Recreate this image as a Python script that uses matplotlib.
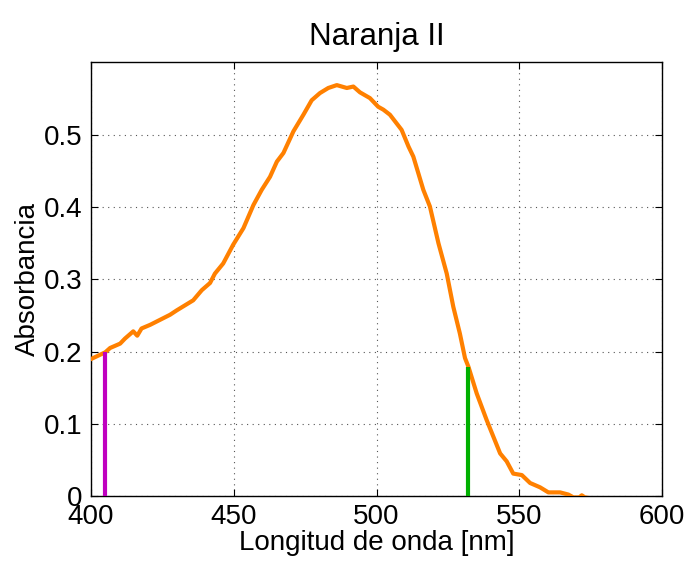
import matplotlib
matplotlib.use("Agg")
import matplotlib.pyplot as plt

plt.rcParams['font.family'] = ['Liberation Sans', 'DejaVu Sans']

# Absorption spectrum of Naranja II
wavelength = [400.2, 405.0, 406.7, 410.2, 411.9, 414.8, 416.2, 417.7, 420.7, 424.2,
              427.7, 430.0, 435.8, 438.8, 441.7, 443.4, 446.3, 449.8, 453.4, 456.9,
              459.8, 462.7, 465.1, 467.4, 470.9, 474.4, 477.3, 480.2, 483.1, 486.1,
              489.6, 491.9, 494.2, 497.7, 500.6, 502.4, 504.7, 508.8, 511.2, 512.9,
              516.4, 518.7, 521.7, 524.6, 526.9, 529.2, 531.0, 532.2, 535.1, 538.6,
              543.3, 545.6, 547.9, 550.9, 553.8, 557.3, 560.2, 564.3, 567.2, 569.0,
              571.0, 571.9, 573.0, 580.0, 590.0, 600.0]
absorbance = [0.190, 0.199, 0.205, 0.211, 0.218, 0.228, 0.222, 0.232, 0.237, 0.244,
              0.251, 0.257, 0.271, 0.285, 0.295, 0.308, 0.322, 0.348, 0.371, 0.403,
              0.424, 0.442, 0.463, 0.475, 0.505, 0.528, 0.548, 0.558, 0.565, 0.569,
              0.565, 0.567, 0.559, 0.551, 0.539, 0.535, 0.528, 0.507, 0.484, 0.470,
              0.424, 0.401, 0.350, 0.308, 0.262, 0.225, 0.191, 0.179, 0.142, 0.105,
              0.059, 0.048, 0.031, 0.029, 0.018, 0.012, 0.005, 0.005, 0.002, -0.002,
              -0.002, 0.001, -0.002, -0.006, -0.008, -0.010]

# Laser lines marked on the spectrum
laser_nm = [405, 532]
laser_abs = [0.199, 0.179]
laser_colors = ['#bf00bf', '#00b000']

fig = plt.figure(figsize=(6.88, 5.61), dpi=100)
ax = fig.add_axes([91/688, 1 - 496/561, (662 - 91)/688, (496 - 62)/561])

ax.plot(wavelength, absorbance, color='#ff8000', linewidth=3.0, zorder=3,
        solid_joinstyle='round')
for x, h, c in zip(laser_nm, laser_abs, laser_colors):
    ax.vlines(x, 0, h, colors=c, linewidth=3.0, zorder=4)

ax.set_xlim(400, 600)
ax.set_ylim(0, 0.601)
ax.set_xticks([400, 450, 500, 550, 600])
ax.set_yticks([0, 0.1, 0.2, 0.3, 0.4, 0.5])
ax.set_yticklabels(['0', '0.1', '0.2', '0.3', '0.4', '0.5'])
ax.tick_params(direction='in', top=True, right=True, length=5, width=0.8,
               labelsize=20)
ax.tick_params(axis='x', pad=6)
ax.tick_params(axis='y', pad=6)
ax.grid(True, linestyle=(0, (1, 4)), color='#555555', linewidth=0.8)
for s in ax.spines.values():
    s.set_linewidth(1.0)

ax.set_title('Naranja II', fontsize=22.5, pad=12)
ax.set_xlabel('Longitud de onda [nm]', fontsize=20, labelpad=0)
ax.set_ylabel('Absorbancia', fontsize=20, labelpad=2)

fig.savefig('out.png', dpi=100)
